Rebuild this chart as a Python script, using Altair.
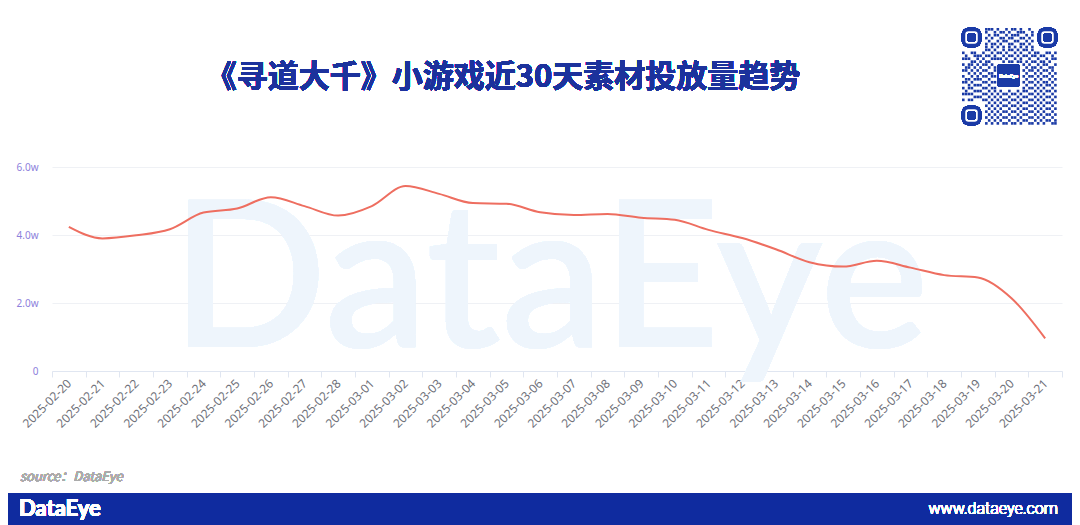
import altair as alt
import pandas as pd

# ---- data ----
dates = [
    "2025-02-20", "2025-02-21", "2025-02-22", "2025-02-23", "2025-02-24",
    "2025-02-25", "2025-02-26", "2025-02-27", "2025-02-28", "2025-03-01",
    "2025-03-02", "2025-03-03", "2025-03-04", "2025-03-05", "2025-03-06",
    "2025-03-07", "2025-03-08", "2025-03-09", "2025-03-10", "2025-03-11",
    "2025-03-12", "2025-03-13", "2025-03-14", "2025-03-15", "2025-03-16",
    "2025-03-17", "2025-03-18", "2025-03-19", "2025-03-20", "2025-03-21",
]
values = [
    42400, 39000, 39900, 41700, 46600,
    47800, 51100, 48500, 45700, 48500,
    54400, 52100, 49400, 49200, 46700,
    45900, 46200, 45100, 44500, 41500,
    39100, 35800, 32000, 30700, 32400,
    30400, 28200, 27500, 21400, 9600,
]
y_ticks = [0, 20000, 40000, 60000]

title_text = "《寻道大千》小游戏近30天素材投放量趋势"
source_text = "source：DataEye"
logo_text = "DataEye"
url_text = "www.dataeye.com"

# decorative QR-code texture (hand-typed module rows)
qr_rows = [
    "101101001110100101101001011010011",
    "010011101001011010011100101101100",
    "110100110101100101110010110010101",
    "001011001010011011001101001101010",
    "111010110100101100110010111010011",
    "010101001011010011001101000101100",
    "101010101010101010101010101010101",
    "011100101101001011010110100110010",
    "100110010010110100101001011001101",
    "010011101101001011010110110110010",
    "111001010011110100101001001001011",
    "000110101100001011011010110110100",
    "101101011010110100100101001011001",
    "011010100101011010011010110100110",
    "110101011001100101100101101011010",
    "001010100110011010011010010100101",
    "100101011011100101101101101011010",
    "011011100100011010010010010100101",
    "110100011011101101101101101011010",
    "001011100100010010110010010101101",
    "101100011011101100101101101010010",
    "010011100101010010010110010101101",
    "111100011010101101101001101010010",
    "000011100101010010010110010101101",
    "101100011010101101101001101010010",
    "010011100101010010010110010101101",
    "101101011010101101101001101010010",
    "011010100101010010010110010101101",
    "100101011010101101101001101010010",
    "011010100101010010010110010101101",
    "101101011010101101101001101010010",
    "010010100101010010010110010101101",
    "101101011010101101101001101010011",
]

df = pd.DataFrame({"date": dates, "value": values})

W, H = 1010, 204
PAD = {"left": 44, "top": 159, "right": 10, "bottom": 154}

base = alt.Chart(df)

x_enc = alt.X(
    "date:N",
    sort=dates,
    scale=alt.Scale(paddingInner=0, paddingOuter=0),
    axis=alt.Axis(
        title=None,
        labelAngle=315,
        labelFontSize=12,
        labelColor="#6e7079",
        labelFont="Noto Sans",
        labelBaseline="middle",
        labelAlign="right",
        labelPadding=4,
        tickBand="extent",
        tickSize=6,
        tickColor="#e0e6f1",
        domainColor="#e0e6f1",
        grid=False,
    ),
)
y_enc = alt.Y(
    "value:Q",
    scale=alt.Scale(domain=[0, 60000], nice=False),
    axis=alt.Axis(
        title=None,
        values=y_ticks,
        labelExpr="datum.value == 0 ? '0' : format(datum.value / 10000, '.1f') + 'w'",
        labelFontSize=10,
        labelColor="#8d7fdc",
        labelFont="Noto Sans",
        labelPadding=14,
        ticks=False,
        domain=False,
        gridColor="#eff1f5",
        gridWidth=1,
    ),
)

watermark = base.mark_text(
    text="DataEye", font="Lato", fontSize=205, fontWeight=600,
    color="#eef5fc", align="center", baseline="alphabetic",
).encode(x=alt.value(498), y=alt.value(180))

line = base.mark_line(
    interpolate="monotone", strokeWidth=2, color="#ee6e60"
).encode(x=x_enc, y=y_enc)

title = base.mark_text(
    text=title_text, font="Noto Sans CJK SC", fontSize=31, fontWeight="bold",
    color="#1c329c", align="center", baseline="middle",
).encode(x=alt.value(451), y=alt.value(-89))

# ---- QR-like badge (decoration) ----
QB = "#1a3aa6"
n = len(qr_rows)
cells = []
for r, row in enumerate(qr_rows):
    for c, ch in enumerate(row):
        in_finder = (r < 8 and c < 8) or (r < 8 and c >= n - 8) or (r >= n - 8 and c < 8)
        in_center = (12 <= r <= 20) and (12 <= c <= 20)
        if ch == "1" and not in_finder and not in_center:
            cells.append({"c": c, "r": r})
qr_df = pd.DataFrame(cells)

qr_mod = alt.Chart(qr_df).transform_calculate(
    c1="datum.c + 0.9", r1="datum.r + 0.9"
).mark_rect(color=QB).encode(
    x=alt.X("c:Q", scale=alt.Scale(domain=[0, n], range=[910, 1005]), axis=None),
    x2="c1:Q",
    y=alt.Y("r:Q", scale=alt.Scale(domain=[0, n], range=[-139, -42]), axis=None),
    y2="r1:Q",
)

qr_marks = []
for fx, fy in [(910, -139), (986, -139), (910, -61)]:
    qr_marks.append(base.mark_rect(color="white", stroke=QB, strokeWidth=3.5, cornerRadius=5).encode(
        x=alt.value(fx + 1.5), x2=alt.value(fx + 17.5), y=alt.value(fy + 1.5), y2=alt.value(fy + 17.5)))
    qr_marks.append(base.mark_rect(color=QB, cornerRadius=2).encode(
        x=alt.value(fx + 5.5), x2=alt.value(fx + 13.5), y=alt.value(fy + 5.5), y2=alt.value(fy + 13.5)))
qr_marks.append(base.mark_rect(color=QB, cornerRadius=3).encode(
    x=alt.value(945), x2=alt.value(968), y=alt.value(-103), y2=alt.value(-80)))
qr_marks.append(base.mark_text(text="DataEye", fontSize=5, color="white", font="Noto Sans").encode(
    x=alt.value(956.5), y=alt.value(-91.5)))

source = base.mark_text(
    text=source_text, font="Noto Sans CJK SC", fontSize=13, fontStyle="italic",
    color="#ababab", align="left", baseline="middle",
).encode(x=alt.value(-32), y=alt.value(310))

bar = base.mark_rect(color="#0f2b9f").encode(
    x=alt.value(-60), x2=alt.value(1030), y=alt.value(326), y2=alt.value(360))
logo = base.mark_text(
    text=logo_text, font="Lato", fontSize=22, fontWeight="bold",
    color="white", align="left", baseline="middle",
).encode(x=alt.value(-33), y=alt.value(342))
url = base.mark_text(
    text=url_text, font="Roboto", fontSize=16, fontWeight=300,
    color="white", align="right", baseline="middle",
).encode(x=alt.value(1006), y=alt.value(342))

chart = alt.layer(
    watermark, line, title, qr_mod, *qr_marks, source, bar, logo, url
).resolve_scale(
    x="independent", y="independent"
).properties(
    width=W, height=H, padding=PAD,
    autosize=alt.AutoSizeParams(type="none"),
    background="white",
).configure_view(stroke=None)

chart.save("out.html", embed_options={"renderer": "svg", "actions": False})
